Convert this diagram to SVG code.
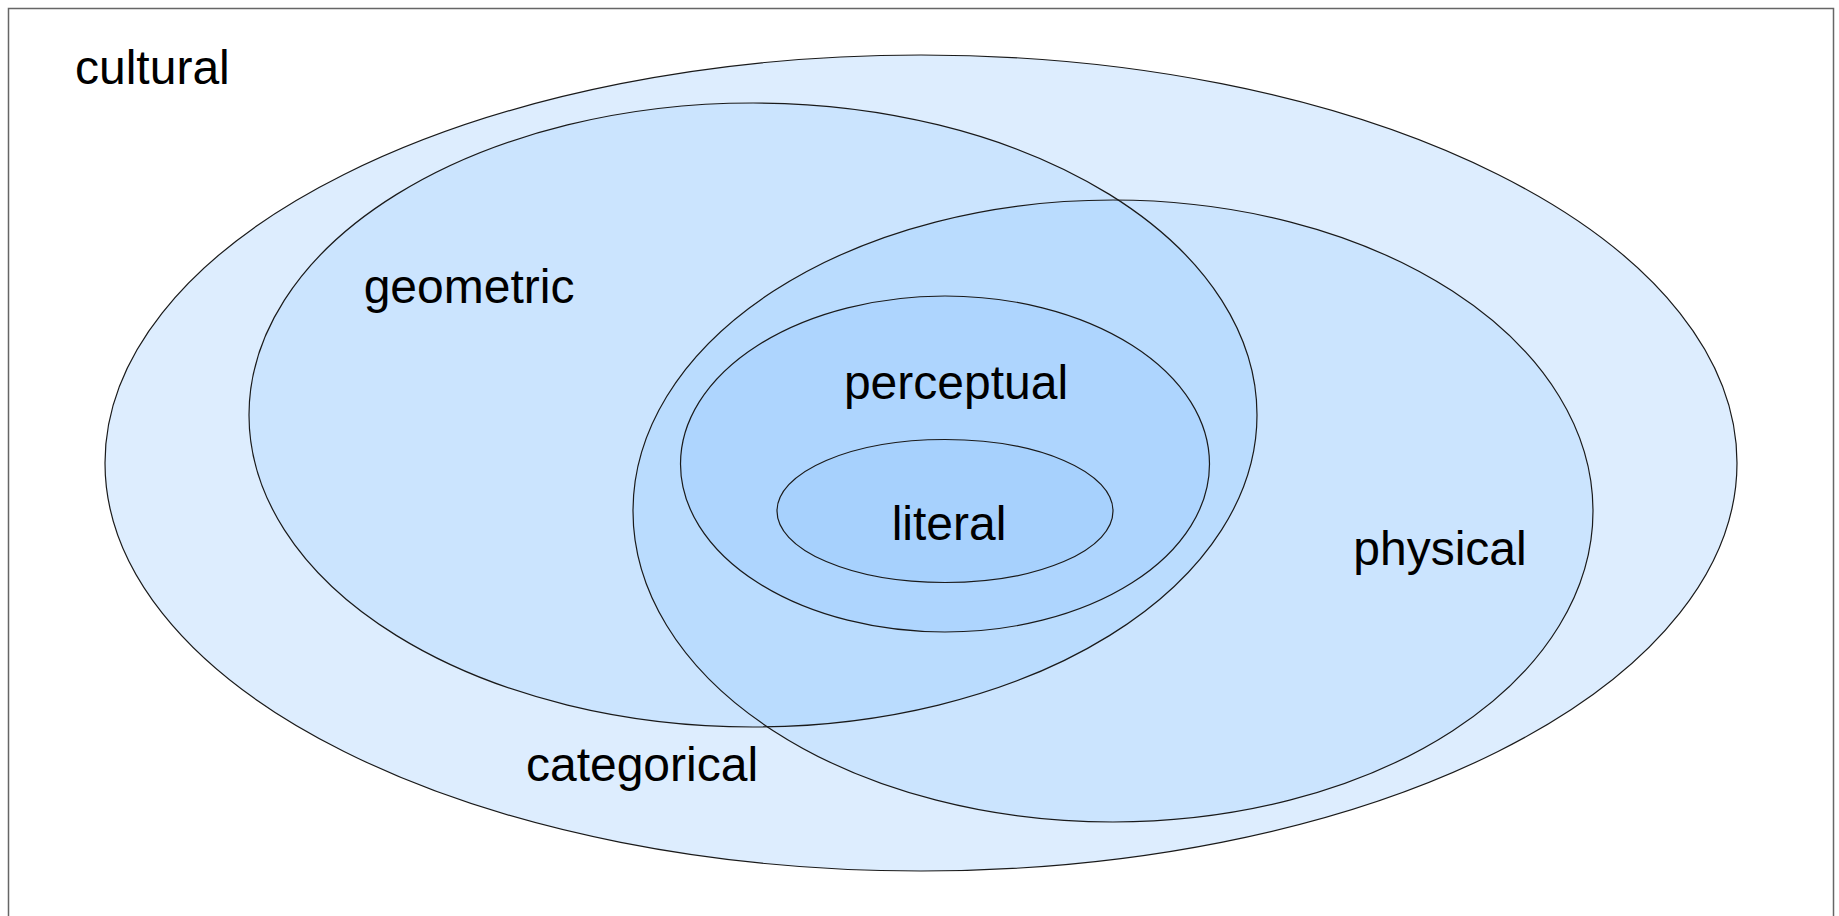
<svg xmlns="http://www.w3.org/2000/svg" width="1839" height="916" viewBox="0 0 1839 916">
<style>
.lbl{font-family:"Liberation Sans",Arial,sans-serif;font-size:48px;fill:#000;text-anchor:middle}
.ol{fill:none;stroke:#1a1a1a;stroke-width:1.2}
</style>
<defs>
<clipPath id="physClip"><ellipse cx="1113" cy="511" rx="480" ry="311"/></clipPath>
</defs>
<rect x="0" y="0" width="1839" height="916" fill="#fff"/>
<rect x="8.5" y="8.5" width="1825" height="1000" fill="#fff" stroke="#666" stroke-width="1.5"/>
<g id="cultural">
<ellipse cx="921" cy="463" rx="816" ry="408" fill="#ddedfe"/>
<text class="lbl" x="75" y="84" style="text-anchor:start">cultural</text>
<text class="lbl" x="642" y="781">categorical</text>
</g>
<g id="geometric">
<ellipse cx="753" cy="415" rx="504" ry="312" fill="#cbe4fe"/>
<text class="lbl" x="469" y="303">geometric</text>
</g>
<g id="physical">
<ellipse cx="1113" cy="511" rx="480" ry="311" fill="#cbe4fe"/>
<ellipse cx="753" cy="415" rx="504" ry="312" fill="#badcfe" clip-path="url(#physClip)"/>
<text class="lbl" x="1440" y="565">physical</text>
</g>
<g id="perceptual">
<ellipse cx="945" cy="464" rx="264.5" ry="168" fill="#aed5fe"/>
<text class="lbl" x="956" y="399">perceptual</text>
</g>
<g id="literal">
<ellipse cx="945" cy="511" rx="168" ry="71.5" fill="#a7d1fd"/>
<text class="lbl" x="949" y="540">literal</text>
</g>
<g id="outlines">
<ellipse class="ol" cx="921" cy="463" rx="816" ry="408"/>
<ellipse class="ol" cx="753" cy="415" rx="504" ry="312"/>
<ellipse class="ol" cx="1113" cy="511" rx="480" ry="311"/>
<ellipse class="ol" cx="945" cy="464" rx="264.5" ry="168"/>
<ellipse class="ol" cx="945" cy="511" rx="168" ry="71.5"/>
</g>
</svg>
